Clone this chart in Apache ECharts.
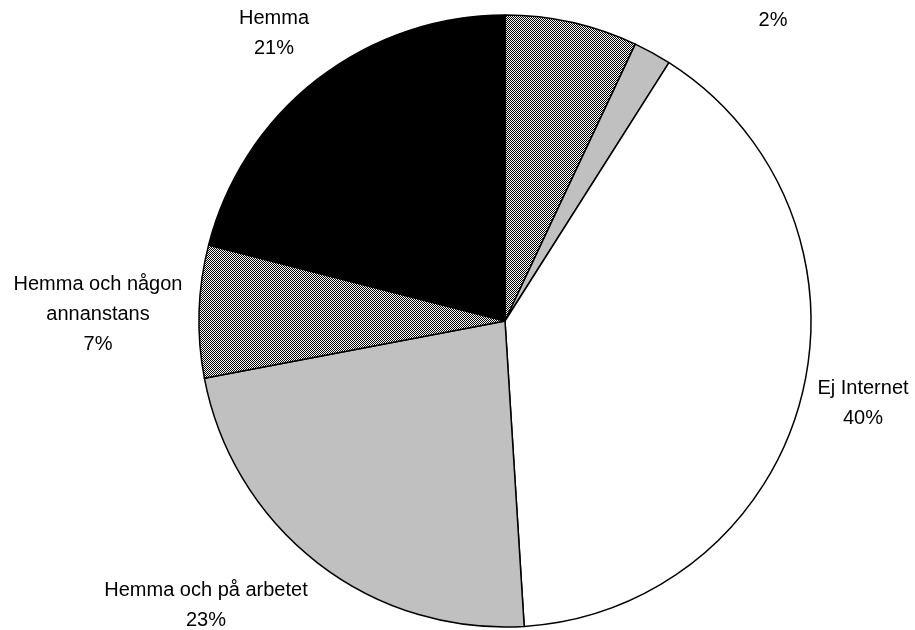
<!DOCTYPE html>
<html>
<head>
<meta charset="utf-8">
<script src="https://cdn.jsdelivr.net/npm/echarts@6/dist/echarts.min.js"></script>
<style>
  html, body { margin: 0; padding: 0; background: #fff; }
  #chart { width: 915px; height: 630px; }
</style>
</head>
<body>
<div id="chart"></div>
<script>
// data, clockwise from 12 o'clock
var categories = ['På arbetet', 'Någon annanstans', 'Ej Internet', 'Hemma och på arbetet', 'Hemma och någon\nannanstans', 'Hemma'];
var values = [7, 2, 40, 23, 7, 21];
var showLabel = [false, true, true, true, true, true];
var showName = [false, false, true, true, true, true];

// checkered fill (black/white pixels)
function checker() {
    var c = document.createElement('canvas');
    c.width = 2; c.height = 2;
    var ctx = c.getContext('2d');
    ctx.fillStyle = '#fff';
    ctx.fillRect(0, 0, 2, 2);
    ctx.fillStyle = '#000';
    ctx.fillRect(0, 0, 1, 1);
    ctx.fillRect(1, 1, 1, 1);
    return { image: c, repeat: 'repeat' };
}
var fills = [checker(), '#c0c0c0', '#ffffff', '#c0c0c0', checker(), '#000000'];

// label anchor points (px)
var labelPos = [[0, 0], [773, 20], [863, 403], [206, 605], [98, 314], [274, 33]];

var myChart = echarts.init(document.getElementById('chart'));

var seriesData = categories.map(function (name, i) {
    return {
        name: name,
        value: values[i],
        itemStyle: { color: fills[i] },
        label: {
            show: showLabel[i],
            formatter: showName[i] ? '{b}\n{d}%' : '{d}%'
        }
    };
});

var option = {
    backgroundColor: '#ffffff',
    animation: false,
    series: [{
        type: 'pie',
        center: [505, 321],
        radius: 306,
        startAngle: 90,
        clockwise: true,
        avoidLabelOverlap: false,
        percentPrecision: 0,
        itemStyle: {
            borderColor: '#000',
            borderWidth: 1.5
        },
        label: {
            position: 'outside',
            color: '#000',
            fontFamily: 'Liberation Sans, Arial, sans-serif',
            fontSize: 20,
            lineHeight: 30,
            align: 'center'
        },
        labelLine: { show: false },
        labelLayout: function (params) {
            var p = labelPos[params.dataIndex];
            return { x: p[0], y: p[1], align: 'center', verticalAlign: 'middle' };
        },
        emphasis: { disabled: true },
        data: seriesData
    }]
};

myChart.setOption(option);
</script>
</body>
</html>
